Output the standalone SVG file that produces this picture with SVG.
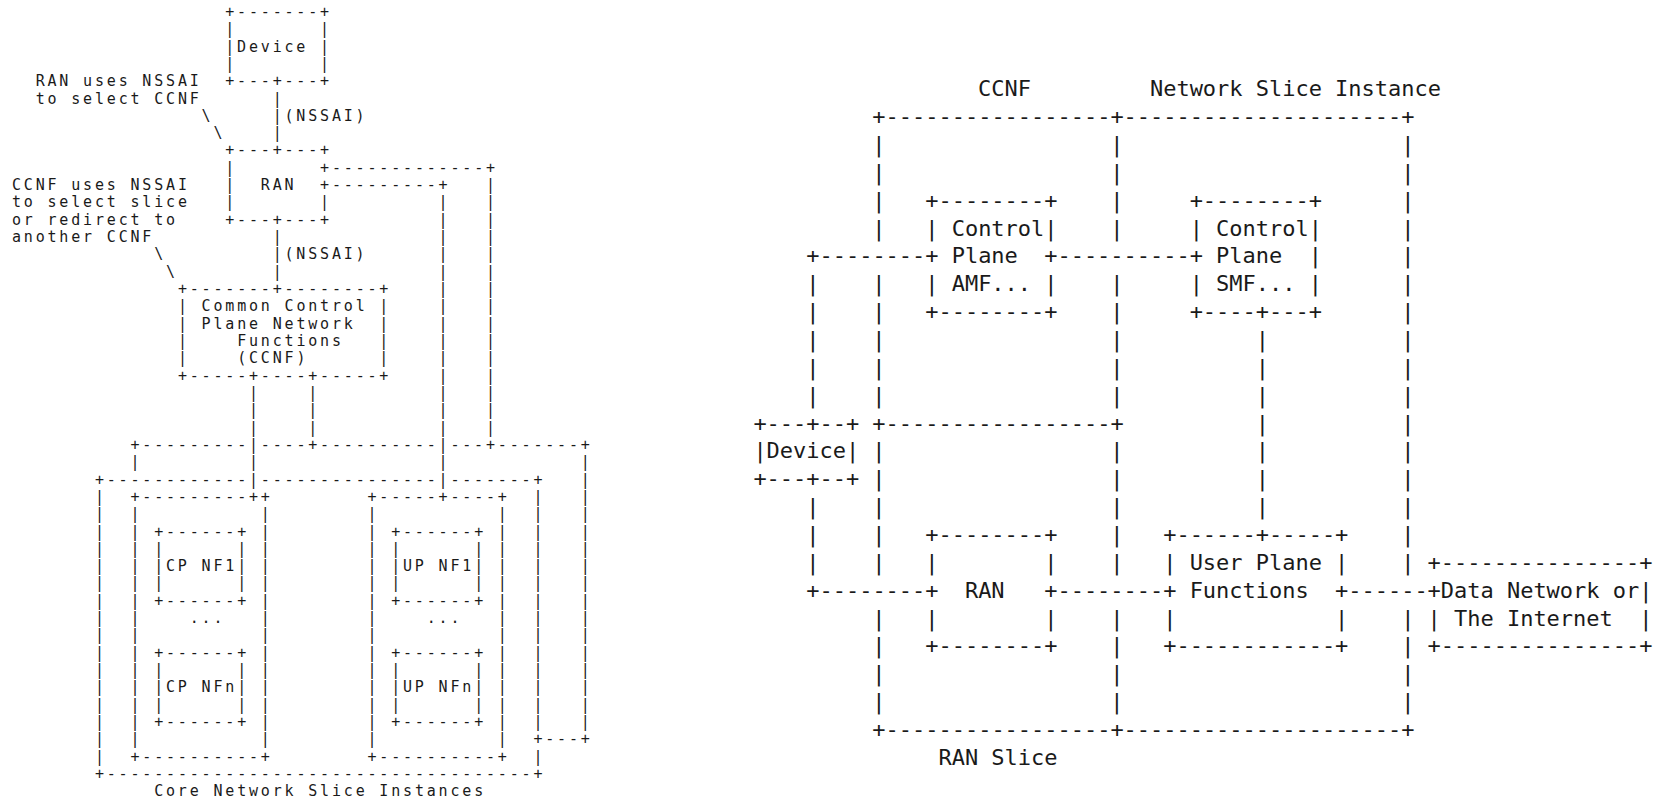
<svg xmlns="http://www.w3.org/2000/svg" width="1654" height="800" viewBox="0 0 1654 800" xml:space="preserve">
<style>
text { font-family: "DejaVu Sans Mono", "Liberation Mono", monospace; fill: #1a1a1a; white-space: pre; }
.l { font-size: 15px; letter-spacing: 2.82px; }
.r { font-size: 22px; letter-spacing: -0.02px; }
</style>
<rect width="1654" height="800" fill="#ffffff"/>

<!-- ================= LEFT DIAGRAM ================= -->
<g id="left-annotations">
<text class="l" x="35.68" y="86.18">RAN uses NSSAI</text>
<text class="l" x="35.68" y="103.5">to select CCNF</text>
<text class="l" x="201.58" y="120.82">\</text>
<text class="l" x="213.43" y="138.14">\</text>
<text class="l" x="11.98" y="190.1">CCNF uses NSSAI</text>
<text class="l" x="11.98" y="207.42">to select slice</text>
<text class="l" x="11.98" y="224.74">or redirect to</text>
<text class="l" x="11.98" y="242.06">another CCNF</text>
<text class="l" x="154.18" y="259.38">\</text>
<text class="l" x="166.03" y="276.7">\</text>
</g>

<g id="l-device">
<text class="l" x="225.28" y="16.9">+-------+</text>
<text class="l" x="225.28" y="34.22">|       |</text>
<text class="l" x="225.28" y="51.54">|Device |</text>
<text class="l" x="225.28" y="68.86">|       |</text>
<text class="l" x="225.28" y="86.18">+---+---+</text>
</g>

<g id="l-ran">
<text class="l" x="225.28" y="155.46">+---+---+</text>
<text class="l" x="225.28" y="172.78">|       +</text>
<text class="l" x="225.28" y="190.1">|  RAN  +</text>
<text class="l" x="225.28" y="207.42">|       |</text>
<text class="l" x="225.28" y="224.74">+---+---+</text>
</g>

<g id="l-ccnf">
<text class="l" x="177.88" y="294.02">+-------+--------+</text>
<text class="l" x="177.88" y="311.34">| Common Control |</text>
<text class="l" x="177.88" y="328.66">| Plane Network  |</text>
<text class="l" x="177.88" y="345.98">|    Functions   |</text>
<text class="l" x="177.88" y="363.3">|    (CCNF)      |</text>
<text class="l" x="177.88" y="380.62">+-----+----+-----+</text>
</g>

<g id="l-slice-back">
<text class="l" x="130.48" y="449.9">+---------</text>
<text class="l" x="260.83" y="449.9">----+----------</text>
<text class="l" x="450.43" y="449.9">---+-------+</text>
<text class="l" x="130.48" y="467.22">|</text>
<text class="l" x="580.78 580.78 580.78 580.78 580.78 580.78 580.78 580.78 580.78 580.78 580.78 580.78 580.78 580.78 580.78 580.78" y="467.22 484.54 501.86 519.18 536.5 553.82 571.14 588.46 605.78 623.1 640.42 657.74 675.06 692.38 709.7 727.02">||||||||||||||||</text>
<text class="l" x="533.38" y="744.34">+---+</text>
</g>

<g id="l-core-slices">
<text class="l" x="94.93" y="484.54">+------------</text>
<text class="l" x="260.83" y="484.54">---------------</text>
<text class="l" x="450.43" y="484.54">-------+</text>
<text class="l" x="94.93 94.93 94.93 94.93 94.93 94.93 94.93 94.93 94.93 94.93 94.93 94.93 94.93 94.93 94.93 94.93" y="501.86 519.18 536.5 553.82 571.14 588.46 605.78 623.1 640.42 657.74 675.06 692.38 709.7 727.02 744.34 761.66">||||||||||||||||</text>
<text class="l" x="533.38 533.38 533.38 533.38 533.38 533.38 533.38 533.38 533.38 533.38 533.38 533.38 533.38 533.38" y="501.86 519.18 536.5 553.82 571.14 588.46 605.78 623.1 640.42 657.74 675.06 692.38 709.7 727.02">||||||||||||||</text>
<text class="l" x="533.38" y="761.66">|</text>
<text class="l" x="94.93" y="778.98">+------------------------------------+</text>
<text class="l" x="154.18" y="796.3">Core Network Slice Instances</text>
</g>

<g id="l-cp-slice">
<text class="l" x="130.48" y="501.86">+---------++</text>
<text class="l" x="130.48 130.48 130.48 130.48 130.48 130.48 130.48 130.48 130.48 130.48 130.48 130.48 130.48 130.48" y="519.18 536.5 553.82 571.14 588.46 605.78 623.1 640.42 657.74 675.06 692.38 709.7 727.02 744.34">||||||||||||||</text>
<text class="l" x="260.83 260.83 260.83 260.83 260.83 260.83 260.83 260.83 260.83 260.83 260.83 260.83 260.83 260.83" y="519.18 536.5 553.82 571.14 588.46 605.78 623.1 640.42 657.74 675.06 692.38 709.7 727.02 744.34">||||||||||||||</text>
<text class="l" x="130.48" y="761.66">+----------+</text>
<text class="l" x="189.73" y="623.1">...</text>
</g>

<g id="l-cp-nf1">
<text class="l" x="154.18" y="536.5">+------+</text>
<text class="l" x="154.18" y="553.82">|      |</text>
<text class="l" x="154.18" y="571.14">|CP NF1|</text>
<text class="l" x="154.18" y="588.46">|      |</text>
<text class="l" x="154.18" y="605.78">+------+</text>
</g>

<g id="l-cp-nfn">
<text class="l" x="154.18" y="657.74">+------+</text>
<text class="l" x="154.18" y="675.06">|      |</text>
<text class="l" x="154.18" y="692.38">|CP NFn|</text>
<text class="l" x="154.18" y="709.7">|      |</text>
<text class="l" x="154.18" y="727.02">+------+</text>
</g>

<g id="l-up-slice">
<text class="l" x="367.48" y="501.86">+-----+----+</text>
<text class="l" x="367.48 367.48 367.48 367.48 367.48 367.48 367.48 367.48 367.48 367.48 367.48 367.48 367.48 367.48" y="519.18 536.5 553.82 571.14 588.46 605.78 623.1 640.42 657.74 675.06 692.38 709.7 727.02 744.34">||||||||||||||</text>
<text class="l" x="497.83 497.83 497.83 497.83 497.83 497.83 497.83 497.83 497.83 497.83 497.83 497.83 497.83 497.83" y="519.18 536.5 553.82 571.14 588.46 605.78 623.1 640.42 657.74 675.06 692.38 709.7 727.02 744.34">||||||||||||||</text>
<text class="l" x="367.48" y="761.66">+----------+</text>
<text class="l" x="426.73" y="623.1">...</text>
</g>

<g id="l-up-nf1">
<text class="l" x="391.18" y="536.5">+------+</text>
<text class="l" x="391.18" y="553.82">|      |</text>
<text class="l" x="391.18" y="571.14">|UP NF1|</text>
<text class="l" x="391.18" y="588.46">|      |</text>
<text class="l" x="391.18" y="605.78">+------+</text>
</g>

<g id="l-up-nfn">
<text class="l" x="391.18" y="657.74">+------+</text>
<text class="l" x="391.18" y="675.06">|      |</text>
<text class="l" x="391.18" y="692.38">|UP NFn|</text>
<text class="l" x="391.18" y="709.7">|      |</text>
<text class="l" x="391.18" y="727.02">+------+</text>
</g>

<g id="l-connectors">
<text class="l" x="272.68 272.68 272.68" y="103.5 120.82 138.14">|||</text>
<text class="l" x="284.53" y="120.82">(NSSAI)</text>
<text class="l" x="272.68 272.68 272.68" y="242.06 259.38 276.7">|||</text>
<text class="l" x="284.53" y="259.38">(NSSAI)</text>
<text class="l" x="331.93" y="172.78">-------------+</text>
<text class="l" x="331.93" y="190.1">---------+</text>
<text class="l" x="485.98 485.98 485.98 485.98 485.98 485.98 485.98 485.98 485.98 485.98 485.98 485.98 485.98 485.98 485.98" y="190.1 207.42 224.74 242.06 259.38 276.7 294.02 311.34 328.66 345.98 363.3 380.62 397.94 415.26 432.58">|||||||||||||||</text>
<text class="l" x="438.58 438.58 438.58 438.58 438.58 438.58 438.58 438.58 438.58 438.58 438.58 438.58 438.58 438.58 438.58 438.58 438.58" y="207.42 224.74 242.06 259.38 276.7 294.02 311.34 328.66 345.98 363.3 380.62 397.94 415.26 432.58 449.9 467.22 484.54">|||||||||||||||||</text>
<text class="l" x="248.98 248.98 248.98 248.98 248.98 248.98" y="397.94 415.26 432.58 449.9 467.22 484.54">||||||</text>
<text class="l" x="308.23 308.23 308.23" y="397.94 415.26 432.58">|||</text>
</g>

<!-- ================= RIGHT DIAGRAM ================= -->
<g id="right-labels">
<text class="r" x="978.12" y="96.2">CCNF</text>
<text class="r" x="1149.98" y="96.2">Network Slice Instance</text>
<text class="r" x="938.46" y="764.84">RAN Slice</text>
</g>

<g id="r-ccnf">
<text class="r" x="872.36" y="124.06">+-----------------+</text>
<text class="r" x="872.36 872.36 872.36 872.36" y="151.92 179.78 207.64 235.5">||||</text>
<text class="r" x="872.36 872.36 872.36 872.36 872.36" y="291.22 319.08 346.94 374.8 402.66">|||||</text>
<text class="r" x="1110.32 1110.32 1110.32 1110.32" y="151.92 179.78 207.64 235.5">||||</text>
<text class="r" x="1110.32 1110.32 1110.32 1110.32 1110.32" y="291.22 319.08 346.94 374.8 402.66">|||||</text>
<text class="r" x="872.36" y="430.52">+-----------------+</text>
</g>

<g id="r-network-slice-instance">
<text class="r" x="1123.54" y="124.06">---------------------+</text>
<text class="r" x="1401.16 1401.16 1401.16 1401.16 1401.16 1401.16 1401.16 1401.16 1401.16 1401.16 1401.16 1401.16 1401.16 1401.16 1401.16 1401.16" y="151.92 179.78 207.64 235.5 263.36 291.22 319.08 346.94 374.8 402.66 430.52 458.38 486.24 514.1 541.96 569.82">||||||||||||||||</text>
<text class="r" x="1401.16 1401.16 1401.16 1401.16" y="625.54 653.4 681.26 709.12">||||</text>
<text class="r" x="1123.54" y="736.98">---------------------+</text>
</g>

<g id="r-ran-slice">
<text class="r" x="872.36 872.36 872.36 872.36 872.36" y="458.38 486.24 514.1 541.96 569.82">|||||</text>
<text class="r" x="872.36 872.36 872.36 872.36" y="625.54 653.4 681.26 709.12">||||</text>
<text class="r" x="1110.32 1110.32 1110.32 1110.32 1110.32" y="458.38 486.24 514.1 541.96 569.82">|||||</text>
<text class="r" x="1110.32 1110.32 1110.32 1110.32" y="625.54 653.4 681.26 709.12">||||</text>
<text class="r" x="872.36" y="736.98">+-----------------+</text>
</g>

<g id="r-amf">
<text class="r" x="925.24" y="207.64">+--------+</text>
<text class="r" x="925.24" y="235.5">| Control|</text>
<text class="r" x="925.24" y="263.36">+ Plane  +</text>
<text class="r" x="925.24" y="291.22">| AMF... |</text>
<text class="r" x="925.24" y="319.08">+--------+</text>
</g>

<g id="r-smf">
<text class="r" x="1189.64" y="207.64">+--------+</text>
<text class="r" x="1189.64" y="235.5">| Control|</text>
<text class="r" x="1189.64" y="263.36">+ Plane  |</text>
<text class="r" x="1189.64" y="291.22">| SMF... |</text>
<text class="r" x="1189.64" y="319.08">+----+---+</text>
</g>

<g id="r-device">
<text class="r" x="753.38" y="430.52">+---+--+</text>
<text class="r" x="753.38" y="458.38">|Device|</text>
<text class="r" x="753.38" y="486.24">+---+--+</text>
</g>

<g id="r-ran">
<text class="r" x="925.24" y="541.96">+--------+</text>
<text class="r" x="925.24" y="569.82">|        |</text>
<text class="r" x="925.24" y="597.68">+  RAN   +</text>
<text class="r" x="925.24" y="625.54">|        |</text>
<text class="r" x="925.24" y="653.4">+--------+</text>
</g>

<g id="r-upf">
<text class="r" x="1163.2" y="541.96">+------+-----+</text>
<text class="r" x="1163.2" y="569.82">| User Plane |</text>
<text class="r" x="1163.2" y="597.68">+ Functions  +</text>
<text class="r" x="1163.2" y="625.54">|            |</text>
<text class="r" x="1163.2" y="653.4">+------------+</text>
</g>

<g id="r-data-network">
<text class="r" x="1427.6" y="569.82">+---------------+</text>
<text class="r" x="1427.6" y="597.68">+Data Network or|</text>
<text class="r" x="1427.6" y="625.54">| The Internet  |</text>
<text class="r" x="1427.6" y="653.4">+---------------+</text>
</g>

<g id="r-connectors">
<text class="r" x="806.26" y="263.36">+--------</text>
<text class="r" x="806.26 806.26 806.26 806.26 806.26" y="291.22 319.08 346.94 374.8 402.66">|||||</text>
<text class="r" x="806.26 806.26 806.26" y="514.1 541.96 569.82">|||</text>
<text class="r" x="806.26" y="597.68">+--------</text>
<text class="r" x="1057.44" y="263.36">----------</text>
<text class="r" x="1255.74 1255.74 1255.74 1255.74 1255.74 1255.74 1255.74" y="346.94 374.8 402.66 430.52 458.38 486.24 514.1">|||||||</text>
<text class="r" x="1057.44" y="597.68">--------</text>
<text class="r" x="1348.28" y="597.68">------</text>
</g>
</svg>
